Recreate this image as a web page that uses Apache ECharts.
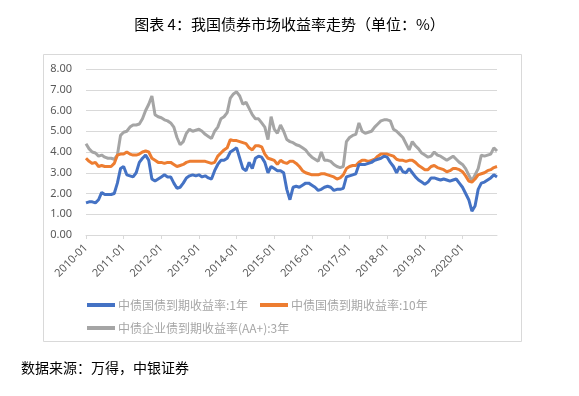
<!DOCTYPE html>
<html><head><meta charset="utf-8">
<script src="https://cdn.jsdelivr.net/npm/echarts@6/dist/echarts.min.js"></script>
<style>html,body{margin:0;padding:0;background:#fff}#c{width:579px;height:396px}</style>
</head><body><div id="c"></div>
<script>
var years = [2010,2011,2012,2013,2014,2015,2016,2017,2018,2019,2020];
var months = [];
years.forEach(function(y){for(var m=1;m<=12;m++){months.push(y+'-'+(m<10?'0'+m:m));}});

var gov1y = [
 1.55,1.6,1.6,1.55,1.7,2.05,1.95,1.95,1.95,2.0,2.5,3.2,
 3.3,2.9,2.85,2.8,3.0,3.5,3.7,3.85,3.6,2.7,2.6,2.7,
 2.8,2.9,2.8,2.8,2.5,2.25,2.3,2.5,2.75,2.85,2.9,2.85,
 2.9,2.8,2.85,2.75,2.7,3.1,3.4,3.6,3.6,3.7,4.0,4.1,
 4.2,3.7,3.2,3.1,3.5,3.2,3.7,3.8,3.75,3.5,3.0,3.3,
 3.2,3.1,3.1,3.0,2.2,1.7,2.3,2.35,2.3,2.4,2.5,2.5,
 2.4,2.3,2.15,2.2,2.3,2.35,2.3,2.15,2.2,2.2,2.25,2.8,
 2.85,2.9,2.95,3.4,3.4,3.4,3.45,3.5,3.6,3.65,3.7,3.8,
 3.75,3.5,3.3,3.0,3.3,3.05,3.0,3.2,3.0,2.8,2.65,2.55,
 2.45,2.55,2.75,2.75,2.7,2.65,2.7,2.65,2.6,2.65,2.7,2.5,
 2.3,2.0,1.7,1.15,1.4,2.2,2.5,2.55,2.65,2.75,2.9,2.8
];
var gov10y = [
 3.7,3.55,3.45,3.5,3.3,3.35,3.3,3.3,3.3,3.45,3.85,3.9,
 3.9,4.0,3.9,3.85,3.85,3.9,4.0,4.05,4.0,3.7,3.6,3.5,
 3.5,3.45,3.5,3.5,3.4,3.3,3.35,3.4,3.5,3.55,3.55,3.55,
 3.55,3.55,3.55,3.5,3.45,3.5,3.8,3.95,4.1,4.2,4.6,4.55,
 4.55,4.5,4.45,4.4,4.2,4.1,4.3,4.3,4.25,3.9,3.7,3.65,
 3.6,3.4,3.6,3.5,3.45,3.55,3.55,3.45,3.3,3.1,3.0,2.95,
 2.9,2.9,2.9,2.95,2.95,2.9,2.85,2.8,2.7,2.75,2.9,3.2,
 3.3,3.35,3.35,3.5,3.6,3.6,3.55,3.6,3.65,3.8,3.9,3.9,
 3.9,3.85,3.8,3.65,3.6,3.6,3.55,3.6,3.6,3.5,3.35,3.25,
 3.15,3.15,3.3,3.35,3.25,3.2,3.15,3.05,3.1,3.2,3.2,3.15,
 3.05,2.85,2.6,2.55,2.7,2.9,2.95,3.0,3.1,3.15,3.25,3.3
];
var corp3y = [
 4.4,4.15,4.0,3.95,3.8,3.85,3.75,3.7,3.7,3.65,3.85,4.8,
 4.95,5.0,5.2,5.3,5.3,5.35,5.6,6.0,6.3,6.7,5.8,5.7,
 5.65,5.55,5.5,5.4,5.2,4.7,4.35,4.5,4.9,5.1,5.0,5.05,
 5.1,5.0,4.85,4.75,4.65,5.0,5.2,5.6,5.7,5.9,6.6,6.8,
 6.9,6.7,6.3,6.4,6.1,5.8,5.6,5.6,5.4,5.2,4.6,5.7,
 5.1,4.9,5.3,5.0,4.6,4.5,4.45,4.35,4.3,4.2,4.1,3.9,
 3.75,3.65,3.55,4.0,3.6,3.6,3.55,3.4,3.3,3.25,3.3,4.5,
 4.7,4.8,4.85,5.4,5.0,4.9,4.95,5.0,5.2,5.35,5.5,5.55,
 5.55,5.5,5.1,5.0,4.85,4.7,4.4,4.1,4.5,4.3,4.15,3.95,
 3.85,3.75,3.8,4.0,3.85,3.8,3.7,3.6,3.7,3.8,3.65,3.5,
 3.4,3.2,2.9,2.6,2.9,3.2,3.85,3.8,3.85,3.9,4.2,4.05
];
var yTicks = [0,1,2,3,4,5,6,7,8];
var names = ['中债国债到期收益率:1年','中债国债到期收益率:10年','中债企业债到期收益率(AA+):3年'];
var colors = ['#4472C4','#ED7D31','#A5A5A5'];

var chart = echarts.init(document.getElementById('c'));
var legendBase = {icon:'rect', itemWidth:28, itemHeight:4, itemGap:10,
  textStyle:{color:'#a6a6a6', fontSize:12, fontFamily:'Noto Sans CJK SC', padding:[0,0,0,-2]}};
function lg(name, left, top){ return Object.assign({}, legendBase, {data:[name], left:left, top:top}); }
chart.setOption({
  animation:false,
  backgroundColor:'#fff',
  title:{text:'图表 4：我国债券市场收益率走势（单位：%）', left:'center', top:12,
    textStyle:{fontSize:15, fontWeight:'normal', color:'#000', fontFamily:'Noto Sans CJK SC'}},
  graphic:[
    {type:'rect', shape:{x:43.5,y:54.5,width:478,height:287}, style:{fill:'none', stroke:'#d9d9d9', lineWidth:1}, z:-1},
    {type:'text', left:21, top:361, style:{text:'数据来源：万得，中银证券', fontSize:14, fill:'#000', fontFamily:'Noto Sans CJK SC'}}
  ],
  legend:[lg(names[0],82,294), lg(names[1],255,294), lg(names[2],82,317)],
  grid:{left:86, right:82, top:69, bottom:161, containLabel:false},
  xAxis:{type:'category', data:months, boundaryGap:false,
    axisLine:{lineStyle:{color:'#d9d9d9'}},
    axisTick:{show:true, interval:function(i){return i%12===0;}, length:4, lineStyle:{color:'#d9d9d9'}},
    axisLabel:{interval:function(i){return i%12===0;}, rotate:45, color:'#595959', fontSize:11, fontFamily:'Noto Sans', margin:11},
    splitLine:{show:false}},
  yAxis:{type:'value', min:yTicks[0], max:yTicks[yTicks.length-1], interval:1,
    axisLine:{show:false}, axisTick:{show:false},
    axisLabel:{formatter:function(v){return v.toFixed(2);}, color:'#595959', fontSize:11, fontFamily:'Noto Sans', margin:14},
    splitLine:{lineStyle:{color:'#d9d9d9'}}},
  series:[
    {name:names[2], type:'line', data:corp3y, showSymbol:false, lineStyle:{width:3, color:colors[2]}, itemStyle:{color:colors[2]}, z:1},
    {name:names[1], type:'line', data:gov10y, showSymbol:false, lineStyle:{width:3, color:colors[1]}, itemStyle:{color:colors[1]}, z:2},
    {name:names[0], type:'line', data:gov1y, showSymbol:false, lineStyle:{width:3, color:colors[0]}, itemStyle:{color:colors[0]}, z:3}
  ]
});
</script></body></html>
